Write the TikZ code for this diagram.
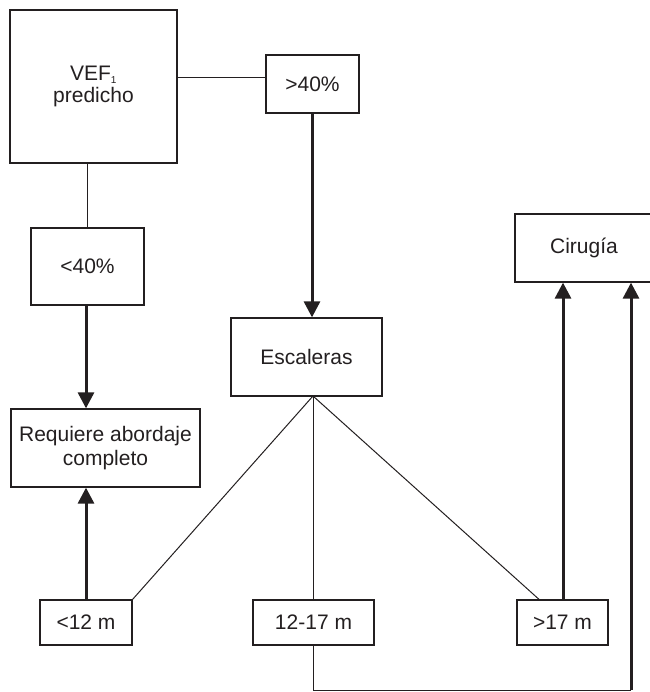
\documentclass[tikz,border=0pt]{standalone}
\usepackage{fontspec}
\setmainfont{Liberation Sans}
\usetikzlibrary{arrows.meta,calc}
\definecolor{ink}{HTML}{231F20}
\begin{document}
\begin{tikzpicture}[x=1pt,y=-1pt,
  box/.style={draw=ink,line width=1.3pt,rectangle,inner sep=0pt,text=ink,font=\fontsize{21}{24}\selectfont,align=center},
  thin/.style={draw=ink,line width=1pt},
  thick/.style={draw=ink,line width=3pt,-{Triangle[width=16pt,length=16pt]}}]
\useasboundingbox (0,0) rectangle (649,692);
\node[box,minimum width=167pt,minimum height=153pt] (vef) at (93.5,86.5) {VEF\textsubscript{\fontsize{10}{10}\selectfont 1}\\[-2pt]predicho};
\node[box,minimum width=93pt,minimum height=58pt] (gt40) at (312.5,84) {>40\%};
\node[box,minimum width=113pt,minimum height=77pt] (lt40) at (87.5,266.5) {<40\%};
\node[box,minimum width=189pt,minimum height=78pt] (req) at (105.5,448) {Requiere abordaje\\completo};
\node[box,minimum width=151pt,minimum height=78pt] (esc) at (306.5,357) {Escaleras};
\node[box,minimum width=92pt,minimum height=45pt] (lt12) at (86,622.5) {<12 m};
\node[box,minimum width=121pt,minimum height=45pt] (m1217) at (313.5,622.5) {12-17 m};
\node[box,minimum width=91pt,minimum height=45pt] (gt17) at (562.5,622.5) {>17 m};
\node[box,minimum width=138pt,minimum height=68pt] (cir) at (584,248) {Cirugía};
\coordinate (ebot) at (313,396);
\coordinate (low) at (313,690);
% connectors
\draw[thin] (vef.east |- 0,78) -- (gt40.west |- 0,78);
\draw[thin] (lt40.north |- vef.south) -- (lt40.north);
\draw[thick] (lt40.south -| 86,0) -- (req.north -| 86,0);
\draw[thick] (gt40.south -| 312,0) -- (esc.north -| 312,0);
\draw[thick] (lt12.north) -- (req.south -| lt12.north);
\draw[thin] (ebot) -- (lt12.north east);
\draw[thin] (ebot) -- (m1217.north -| ebot);
\draw[thin] (ebot) -- (gt17.north -| 539,0);
\draw[thick] (gt17.north -| 563,0) -- (cir.south -| 563,0);
\draw[thin] (m1217.south -| ebot) -- (low) -- (low -| 631,0);
\draw[thick] (low -| 631,0) -- (cir.south -| 631,0);
\end{tikzpicture}
\end{document}
